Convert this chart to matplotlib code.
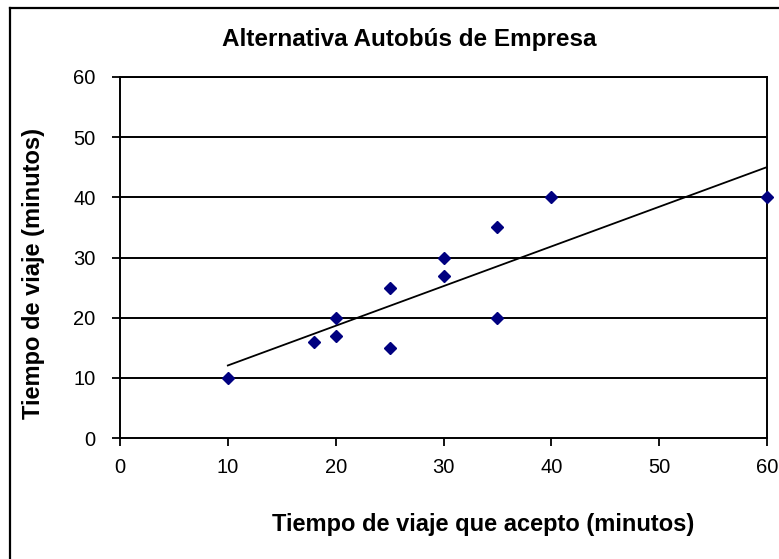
import numpy as np
import matplotlib
matplotlib.use("Agg")
import matplotlib.pyplot as plt
from matplotlib.lines import Line2D

# Data
tiempo_acepto = [10, 18, 20, 20, 25, 25, 30, 30, 35, 35, 40, 60]
tiempo_viaje = [10, 16, 17, 20, 15, 25, 27, 30, 20, 35, 40, 40]
x_ticks = [0, 10, 20, 30, 40, 50, 60]
y_ticks = [0, 10, 20, 30, 40, 50, 60]
title = "Alternativa Autobús de Empresa"
xlabel = "Tiempo de viaje que acepto (minutos)"
ylabel = "Tiempo de viaje (minutos)"

plt.rcParams['font.family'] = ['Liberation Sans', 'DejaVu Sans']

W, H = 779, 559
fig = plt.figure(figsize=(W / 100, H / 100), dpi=100)
ax = fig.add_axes([120 / W, 1 - 438 / H, (767 - 120) / W, (438 - 77) / H])

# Outer chart border (left and top edges visible)
fig.add_artist(Line2D([10 / W, 10 / W], [0, 1 - 8 / H], transform=fig.transFigure,
                      color='black', linewidth=1.6))
fig.add_artist(Line2D([10 / W, 1], [1 - 8 / H, 1 - 8 / H], transform=fig.transFigure,
                      color='black', linewidth=1.6))

for yv in y_ticks[1:]:
    ax.axhline(yv, color='black', linewidth=1.4, zorder=1)

ax.plot(tiempo_acepto, tiempo_viaje, linestyle='none', marker='D',
        markersize=6.3, color='#000080', zorder=3, clip_on=False)

# Linear trendline
coef = np.polyfit(tiempo_acepto, tiempo_viaje, 1)
xs = np.array([min(tiempo_acepto), max(tiempo_acepto)])
ax.plot(xs, np.polyval(coef, xs), color='black', linewidth=1.3, zorder=2)

ax.set_xlim(0, 60)
ax.set_ylim(0, 60)
ax.set_xticks(x_ticks)
ax.set_yticks(y_ticks)
ax.tick_params(direction='out', length=5.5, width=1.3, colors='black',
               labelsize=14.5)
ax.tick_params(axis='y', pad=12)
ax.tick_params(axis='x', pad=9)
for s in ax.spines.values():
    s.set_color('black')
    s.set_linewidth(1.4)

fig.text(409 / W, 1 - 46 / H, title, fontsize=17.5, fontweight='bold',
         ha='center', va='baseline')
fig.text(483.5 / W, 1 - 531 / H, xlabel, fontsize=17, fontweight='bold',
         ha='center', va='baseline')
fig.text(34 / W, 1 - 273.5 / H, ylabel, fontsize=17, fontweight='bold',
         ha='center', va='center', rotation=90)

fig.savefig("out.png", dpi=100)
